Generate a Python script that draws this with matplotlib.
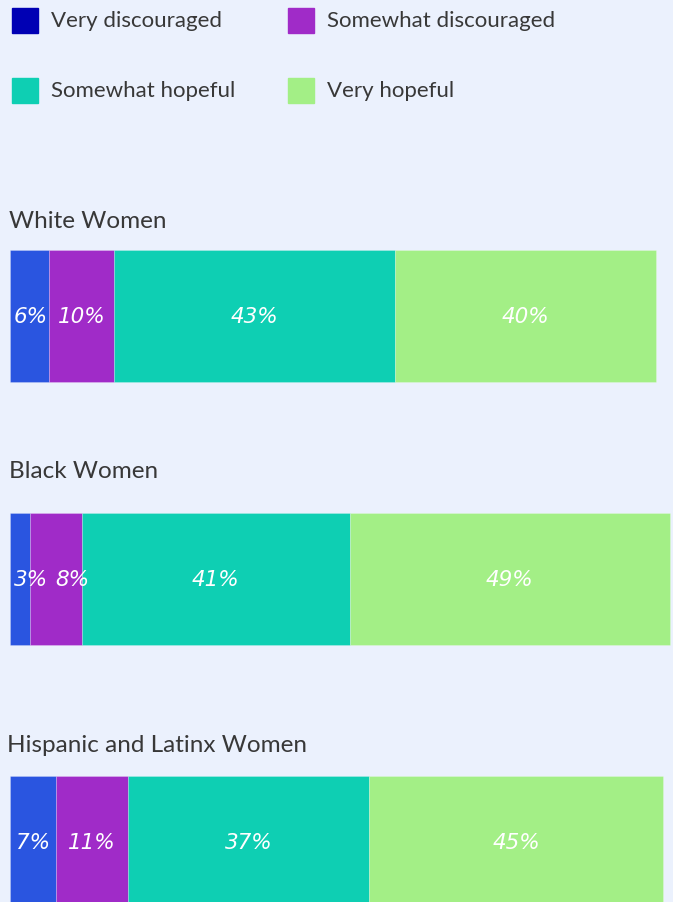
import matplotlib
matplotlib.use('Agg')
import matplotlib.pyplot as plt
from matplotlib.patches import Rectangle

# ── data ─────────────────────────────────────────────
groups = ['White Women', 'Black Women', 'Hispanic and Latinx Women']
categories = ['Very discouraged', 'Somewhat discouraged', 'Somewhat hopeful', 'Very hopeful']
very_disc = [6, 3, 7]
some_disc = [10, 8, 11]
some_hope = [43, 41, 37]
very_hope = [40, 49, 45]

bar_colors = ['#2A55E0', '#A02BC8', '#0ECFB3', '#A3EF86']
legend_colors = ['#0000B4', '#A02BC8', '#0ECFB3', '#A3EF86']
bg = '#EBF1FD'

W, H = 673, 902
px = 6.53          # pixels per percent
x0 = 10            # left edge of bars in pixels

fig = plt.figure(figsize=(W / 100, H / 100), dpi=100, facecolor=bg)
ax = fig.add_axes([0, 0, 1, 1])
ax.set_facecolor(bg)

# map axes so data matches pixel layout
ax.set_xlim(-x0 / px, (W - x0) / px)
spacing = 263
centers_px = [316, 579, 842]
ax.set_ylim((H - centers_px[0]) / spacing, -centers_px[0] / spacing)
ax.axis('off')

series = [very_disc, some_disc, some_hope, very_hope]
ypos = list(range(len(groups)))
left = [0] * len(groups)
for vals, col, name in zip(series, bar_colors, categories):
    ax.barh(ypos, vals, left=left, height=132 / spacing, color=col,
            edgecolor=(1, 1, 1, 0.25), linewidth=0.6, label=name)
    left = [l + v for l, v in zip(left, vals)]

# value labels, pushed right when small segments would overlap
char_w = 2.6
for gi in range(len(groups)):
    start = 0
    prev_right = 0.6
    for vals in series:
        v = vals[gi]
        txt = f'{v}%'
        w = len(txt) * char_w
        xc = max(start + v / 2, prev_right + 1.2 + w / 2 if start > 0 else prev_right + w / 2)
        ax.text(xc, gi + 0.005, txt, ha='center', va='center', color='white',
                fontsize=15.5, style='italic', family='DejaVu Sans')
        prev_right = xc + w / 2
        start += v

# group titles
title_x = [9, 9, 7]
title_y = [221, 472, 745]
for name, tx, ty in zip(groups, title_x, title_y):
    fig.text(tx / W, 1 - ty / H, name, ha='left', va='center',
             fontsize=17.5, color='#383838', family='Lato')

# legend
for i, (name, col) in enumerate(zip(categories, legend_colors)):
    cx = 12 + (i % 2) * 276
    cy = 8 + (i // 2) * 70
    fig.patches.append(Rectangle((cx / W, 1 - (cy + 25) / H), 26 / W, 25 / H,
                                 transform=fig.transFigure, color=col))
    fig.text((cx + 39) / W, 1 - (cy + 13) / H, name, ha='left', va='center',
             fontsize=16, color='#383838', family='Lato')

fig.savefig('out.png', dpi=100, facecolor=bg)
